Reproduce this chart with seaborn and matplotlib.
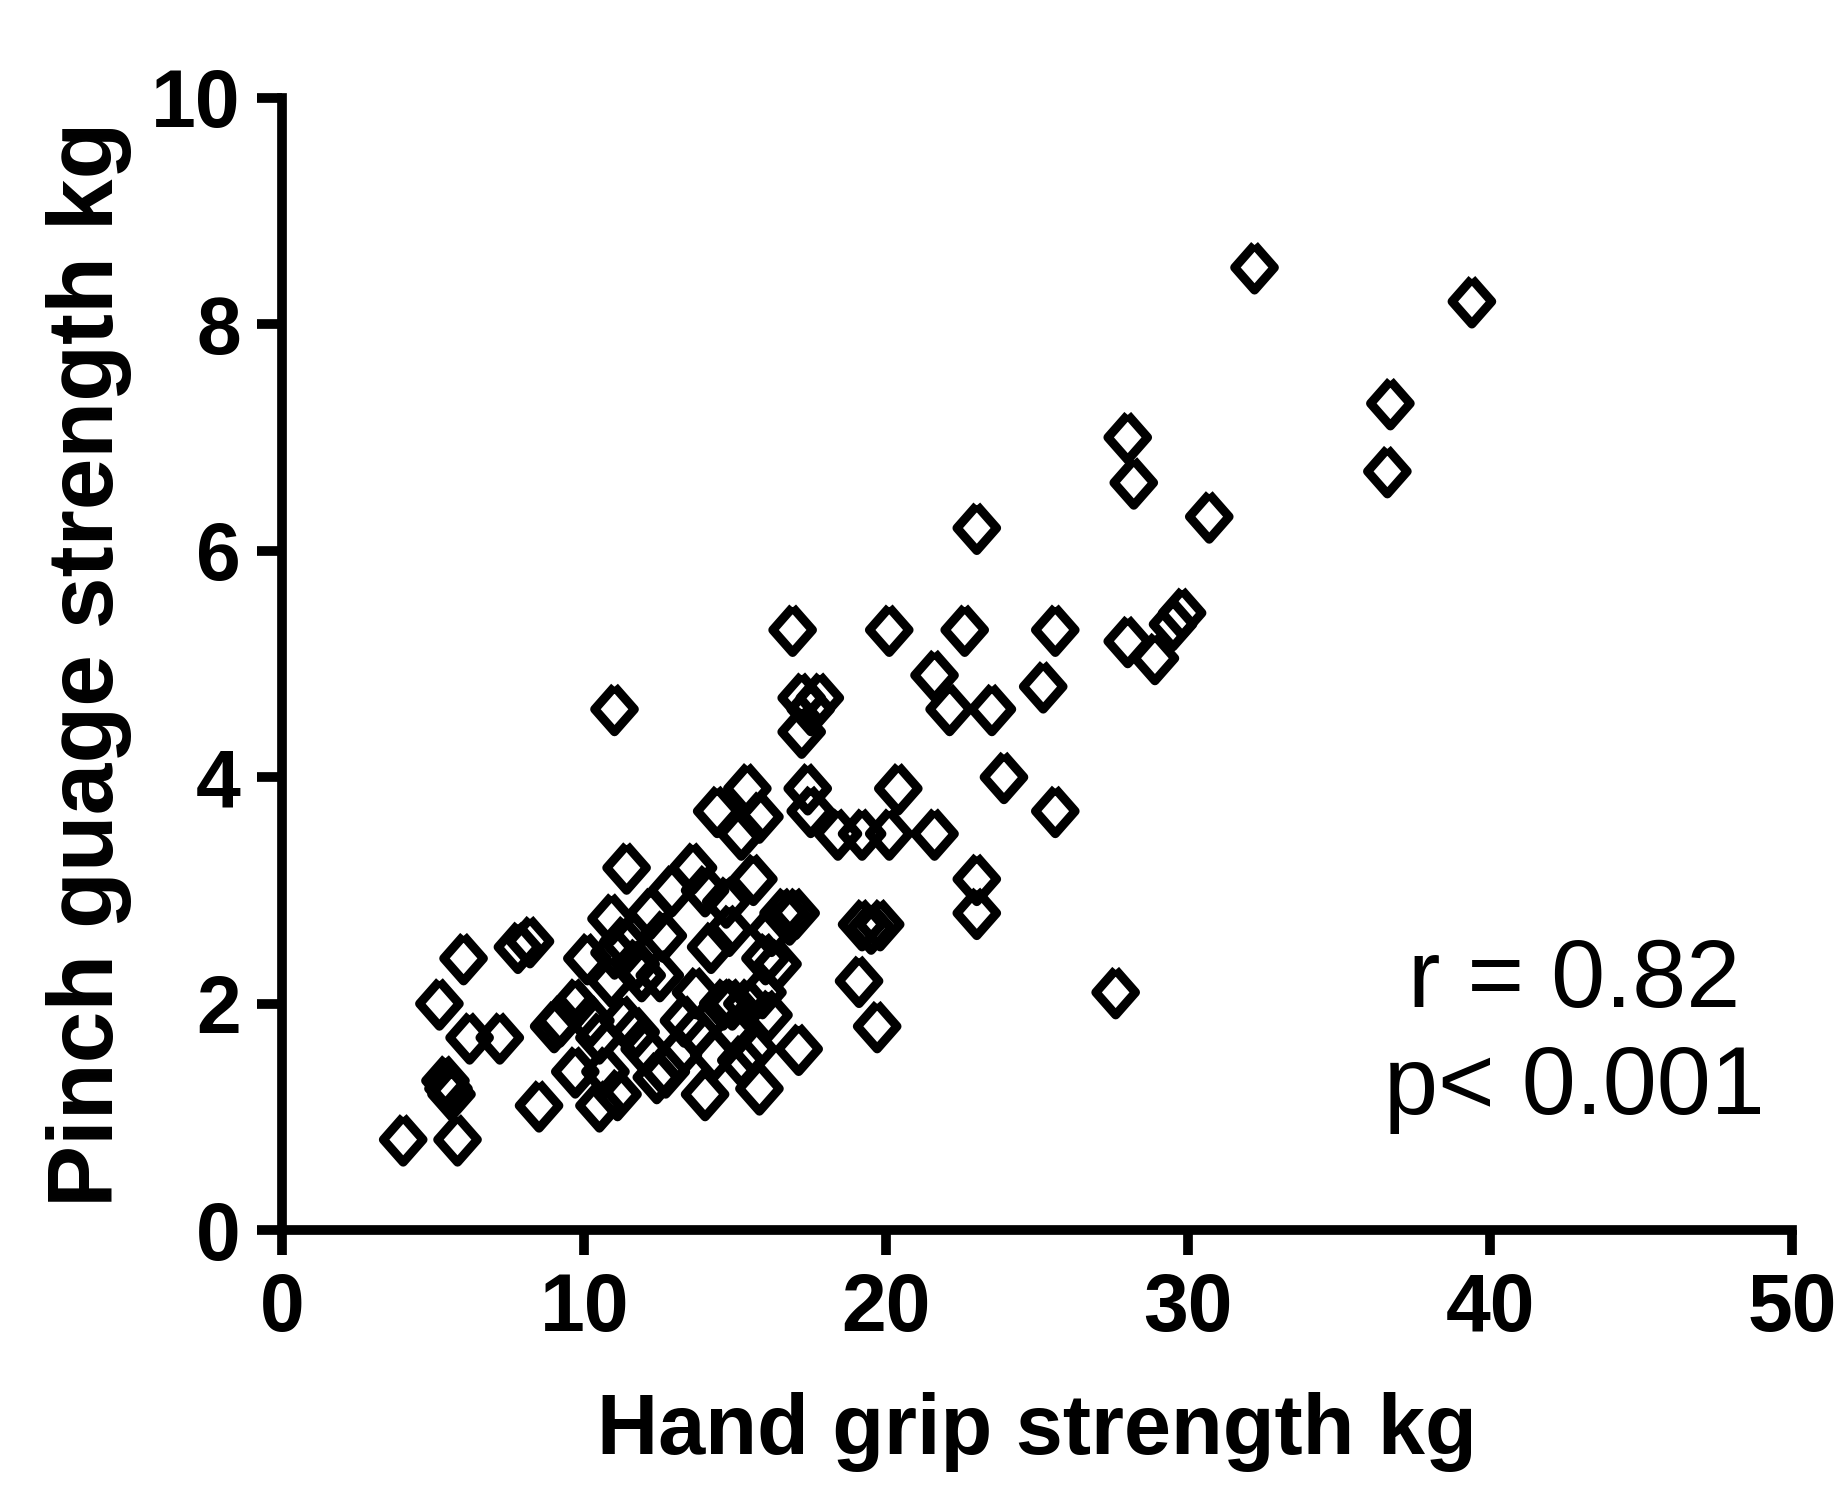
import numpy as np
import pandas as pd
import matplotlib
matplotlib.use('Agg')
import matplotlib.pyplot as plt
import seaborn as sns

# Hand grip (kg) vs pinch gauge (kg)
grip = [32.2, 39.4, 36.7, 36.6, 28.0, 28.2, 30.7, 23.0,
        16.9, 20.1, 22.6, 25.6, 28.0, 28.9, 29.5, 29.8,
        11.0, 21.6, 22.1, 23.5, 25.2, 23.9, 25.6, 21.6, 23.0, 23.0, 27.6,
        17.2, 17.8, 17.5, 17.2, 17.4, 17.5, 18.4, 19.2, 20.1, 20.4,
        19.2, 19.5, 19.8, 19.1, 19.7, 17.1, 17.0,
        4.0, 5.8, 5.5, 5.4, 5.6, 5.2, 6.0, 6.2, 7.2, 7.8, 8.2, 8.5,
        9.0, 9.2, 9.7, 9.7, 10.1, 10.5, 10.7, 10.2, 10.9, 11.4, 10.9,
        11.3, 11.7, 11.9, 11.3, 11.7, 12.0, 12.4, 12.6, 12.9, 13.1,
        13.6, 14.0, 13.7, 14.0, 14.2, 14.4, 14.7, 14.8, 14.6, 15.0,
        15.2, 15.4, 15.2, 15.6, 15.8, 15.8, 15.6, 15.9, 16.2, 16.4,
        16.6, 16.0, 13.7, 12.7, 12.5, 13.3, 10.5, 11.1, 16.8, 14.9,
        15.4, 12.2, 11.0, 16.1, 14.3]
pinch = [8.5, 8.2, 7.3, 6.7, 7.0, 6.6, 6.3, 6.2,
         5.3, 5.3, 5.3, 5.3, 5.2, 5.05, 5.35, 5.45,
         4.6, 4.9, 4.6, 4.6, 4.8, 4.0, 3.7, 3.5, 3.1, 2.8, 2.1,
         4.7, 4.7, 4.6, 4.4, 3.9, 3.7, 3.5, 3.5, 3.5, 3.9,
         2.7, 2.67, 2.7, 2.2, 1.8, 1.6, 2.8,
         0.8, 0.8, 1.25, 1.32, 1.2, 2.0, 2.4, 1.7, 1.7, 2.5, 2.55, 1.1,
         1.8, 1.85, 2.0, 1.4, 2.4, 1.1, 1.4, 1.85, 2.75, 3.2, 2.2,
         2.55, 2.35, 2.25, 1.85, 1.75, 1.6, 1.35, 2.6, 3.0, 1.55,
         3.2, 1.2, 2.1, 3.0, 2.5, 3.7, 2.9, 2.65, 2.0, 1.75,
         1.5, 3.9, 3.5, 3.1, 3.65, 1.25, 1.6, 2.1, 2.65, 2.35,
         2.8, 2.4, 1.75, 1.4, 2.25, 1.85, 1.7, 1.2, 2.75, 2.0,
         2.0, 2.8, 2.45, 1.9, 1.55]

df = pd.DataFrame({'grip': grip, 'pinch': pinch})

sns.set_style('ticks', {'axes.edgecolor': 'black', 'text.color': 'black',
                        'xtick.color': 'black', 'ytick.color': 'black',
                        'axes.labelcolor': 'black'})
plt.rcParams['font.family'] = ['Liberation Sans', 'DejaVu Sans']

fig = plt.figure(figsize=(18.46, 14.93), dpi=100)
ax = fig.add_axes([0.153, 0.176, 0.8177, 0.7586])

# slightly tall open diamond
diamond = [(0, 1), (0.88, 0), (0, -1), (-0.88, 0), (0, 1)]
sns.scatterplot(data=df, x='grip', y='pinch', ax=ax, marker=diamond, s=1050,
                facecolors='none', edgecolor='black', linewidth=6.5, zorder=3)

ax.set_xlim(0, 50)
ax.set_ylim(0, 10)
ax.set_xticks([0, 10, 20, 30, 40, 50])
ax.set_yticks([0, 2, 4, 6, 8, 10])
for side in ['top', 'right']:
    ax.spines[side].set_visible(False)
for side in ['left', 'bottom']:
    ax.spines[side].set_linewidth(7)
ax.tick_params(length=18, width=7, labelsize=58, pad=12)
for lab in ax.get_xticklabels() + ax.get_yticklabels():
    lab.set_fontweight('bold')

ax.set_xlabel('Hand grip strength kg', fontsize=61, fontweight='bold', labelpad=32)
ax.set_ylabel('Pinch guage strength kg', fontsize=67, fontweight='bold', labelpad=14)

ax.text(42.8, 1.72, 'r = 0.82\np< 0.001', fontsize=70, ha='center', va='center',
        linespacing=1.25)

fig.savefig('out.png', dpi=100)
